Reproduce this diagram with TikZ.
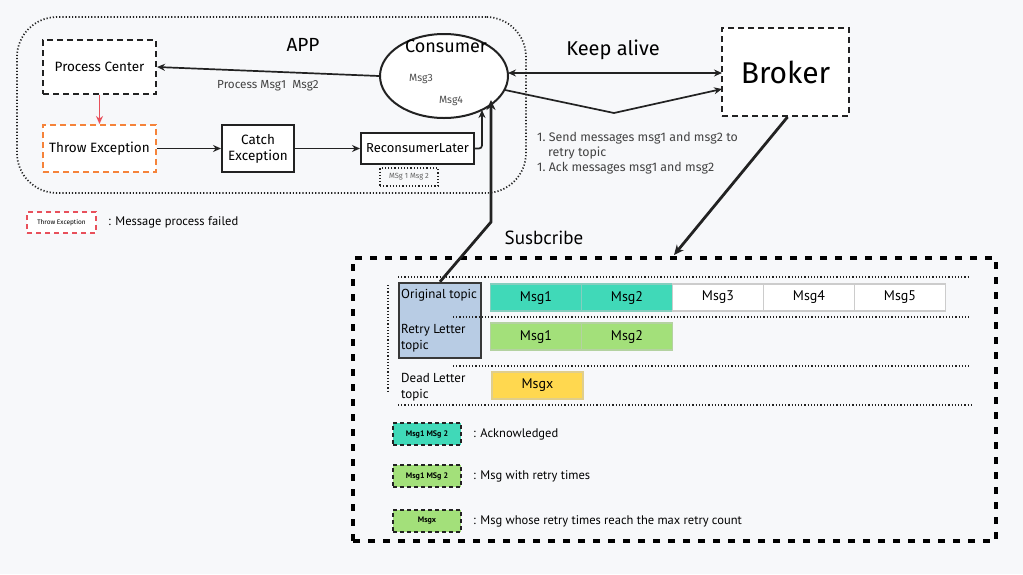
\documentclass[tikz,border=0pt]{standalone}
\usepackage{fontspec}
\setmainfont{PT Sans}
\newfontfamily\hand{Fira Sans}
\usetikzlibrary{arrows.meta,shapes.geometric}
\definecolor{bg}{HTML}{F7F8FA}
\definecolor{teal}{HTML}{40D9B8}
\definecolor{lgreen}{HTML}{A3E07A}
\definecolor{yel}{HTML}{FFD84F}
\definecolor{topicblue}{HTML}{B8CCE4}
\definecolor{dark}{HTML}{222222}
\definecolor{orng}{HTML}{F5833A}
\definecolor{redd}{HTML}{E8505B}
\definecolor{cellgray}{HTML}{CCCCCC}
\newcommand{\fs}[1]{\fontsize{#1pt}{\the\dimexpr #1pt*6/5\relax}\selectfont}
\tikzset{
  hbox/.style={draw=dark,line width=2pt,fill=white,inner sep=0pt,align=center,font=\hand\fs{13.5}},
  dbox/.style={hbox,dash pattern=on 6pt off 4pt},
  arr/.style={-{Stealth[length=8pt,width=7pt]},line width=1.7pt,draw=dark},
  cell/.style={draw=cellgray,line width=1.2pt,minimum width=91pt,minimum height=27pt,inner sep=0pt,font=\fs{14},fill=white},
  dotl/.style={draw=dark,line width=1.5pt,dash pattern=on 1.2pt off 2pt},
  legbox/.style={draw=dark,line width=2pt,dash pattern=on 4pt off 3pt,minimum width=68pt,minimum height=22pt,inner sep=0pt,font=\bfseries\fs{8}},
  legtxt/.style={anchor=west,font=\fs{12.5},inner sep=0pt},
}
\begin{document}
\begin{tikzpicture}[x=1pt,y=-1pt]
\fill[bg] (0,0) rectangle (1023,574);
\useasboundingbox (0,0) rectangle (1023,574);

% APP container
\node[draw=dark,line width=1.7pt,dash pattern=on 1.2pt off 2pt,rounded corners=40pt,minimum width=509pt,minimum height=176pt,inner sep=0pt] (app) at (271.5,105) {};
\node[font=\hand\fs{19}] (applbl) at (303,45) {APP};

\node[dbox,minimum width=113pt,minimum height=54pt] (pc) at (99.5,67) {Process Center};
\node[dbox,draw=orng,minimum width=113pt,minimum height=47pt] (te) at (99.5,148.5) {Throw Exception};
\node[hbox,minimum width=72pt,minimum height=47pt] (ce) at (258,148.5) {Catch\\Exception};
\node[hbox,minimum width=113pt,minimum height=31pt,font=\hand\fs{13}] (rl) at (417.5,148.5) {ReconsumerLater};
\node[draw=dark,line width=1.5pt,dash pattern=on 1.2pt off 2pt,minimum width=58pt,minimum height=18pt,inner sep=0pt,font=\hand\fs{7.5},text=dark!70] (mm) at (409,177) {MSg 1 Msg 2};

\node[draw=dark,ellipse,line width=2pt,fill=white,minimum width=128pt,minimum height=84pt,inner sep=0pt] (cons) at (444,76) {};
\node[font=\hand\fs{18}] (conslbl) at (446,46) {Consumer};
\node[font=\hand\fs{10.5},text=dark!80] (m3) at (421,79) {Msg3};
\node[font=\hand\fs{10.5},text=dark!80] (m4) at (451,101) {Msg4};

\draw[arr] (cons.west) -- (pc.east);
\node[font=\hand\fs{11.7},text=dark!85] (pmsg) at (268,86) {Process Msg1\ \ Msg2};
\draw[-{Stealth[length=8pt,width=7pt]},line width=1.7pt,draw=redd] (pc.south) -- (te.north);
\draw[arr] (te.east) -- (ce.west);
\draw[arr] (ce.east) -- (rl.west);
\coordinate (rltip) at (482,110);
\draw[arr,rounded corners=3pt] (rl.east) -| (rltip);

% Broker
\node[dbox,minimum width=127pt,minimum height=88pt,font=\hand\fs{30}] (broker) at (785.5,72) {Broker};
\coordinate (ka1) at (508,73);
\coordinate (ka2) at (722,73);
\draw[arr,{Stealth[length=8pt,width=7pt]}-{Stealth[length=8pt,width=7pt]}] (ka1) -- (ka2);
\node[font=\hand\fs{20}] (kalbl) at (613,50) {Keep alive};
\coordinate (sa) at (505,90);
\coordinate (sb) at (614,113);
\coordinate (sc) at (722,89);
\draw[arr] (sa) -- (sb) -- (sc);
\node[font=\hand\fs{12.4},text=dark!85,anchor=north west,align=left,inner sep=0pt] (steps) at (537,132) {1.\ Send messages msg1 and msg2 to\\\hspace*{11pt}retry topic\\1.\ Ack messages msg1 and msg2};

% legend top-left
\node[draw=redd,line width=1.7pt,dash pattern=on 5pt off 4pt,minimum width=69pt,minimum height=21pt,inner sep=0pt,font=\hand\fs{6.5},fill=white] (legte) at (61.5,222.5) {Throw Exception};
\node[legtxt] (legtetxt) at (108,222) {: Message process failed};

% Subscribe
\node[font=\fs{19}] (sublbl) at (544,238) {Susbcribe};
\node[draw=black,line width=4.5pt,dash pattern=on 7pt off 8pt,minimum width=643pt,minimum height=283pt,inner sep=0pt] (sub) at (674.5,399.5) {};
\coordinate (brtip) at (674,255);
\draw[arr,line width=2.8pt,-{Stealth[length=10pt,width=9pt]}] (broker.south) ++(2,0) coordinate (brb) -- (brtip);

% dotted separators
\coordinate (d1a) at (398,277); \coordinate (d1b) at (970,277);
\coordinate (d2a) at (453,317); \coordinate (d2b) at (970,317);
\coordinate (d3a) at (453,366); \coordinate (d3b) at (970,366);
\coordinate (d4a) at (398,405); \coordinate (d4b) at (972,405);
\coordinate (dva) at (388,285); \coordinate (dvb) at (388,393);
\draw[dotl] (d1a) -- (d1b);
\draw[dotl] (d3a) -- (d3b);
\draw[dotl] (d4a) -- (d4b);
\draw[dotl] (dva) -- (dvb);

\node[draw=dark!90,fill=topicblue,line width=2.5pt,minimum width=82pt,minimum height=75pt,inner sep=0pt] (topic) at (440,320.5) {};
\draw[dotl] (d2a) -- (d2b);
\node[anchor=north west,font=\fs{13},inner sep=0pt] (otl) at (401,289) {Original topic};
\node[anchor=north west,font=\fs{13},inner sep=0pt,align=left] (rtl) at (401,324) {Retry Letter\\topic};
\node[anchor=north west,font=\fs{13},inner sep=0pt,align=left] (dtl) at (401,373) {Dead Letter\\topic};

% thick arrow topic -> consumer
\coordinate (tk1) at (491,222);
\coordinate (tk2) at (491,100);
\draw[arr,line width=2.8pt,-{Stealth[length=10pt,width=9pt]}] (topic.north) -- (tk1) -- (tk2);

% cells
\node[cell,fill=teal,draw=teal!80!black!60] (o1) at (536,297.5) {Msg1};
\node[cell,fill=teal,draw=teal!80!black!60] (o2) at (627,297.5) {Msg2};
\node[cell] (o3) at (718,297.5) {Msg3};
\node[cell] (o4) at (809,297.5) {Msg4};
\node[cell] (o5) at (900,297.5) {Msg5};
\node[cell,fill=lgreen,draw=lgreen!80!black!60] (r1) at (536,336.5) {Msg1};
\node[cell,fill=lgreen,draw=lgreen!80!black!60] (r2) at (627,336.5) {Msg2};
\node[cell,fill=yel,draw=yel!80!black!60] (dx) at (537.5,385.5) {Msgx};

% legend
\node[legbox,fill=teal] (lg1) at (427,434) {Msg1 MSg 2};
\node[legtxt] (lt1) at (473,434) {: Acknowledged};
\node[legbox,fill=lgreen] (lg2) at (427,476) {Msg1 MSg 2};
\node[legtxt] (lt2) at (473,476) {: Msg with retry times};
\node[legbox,fill=lgreen] (lg3) at (427,521) {Msgx};
\node[legtxt] (lt3) at (473,521) {: Msg whose retry times reach the max retry count};
\end{tikzpicture}
\end{document}
